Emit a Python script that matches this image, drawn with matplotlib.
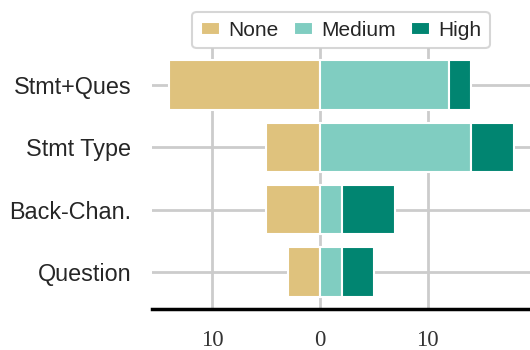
import matplotlib
matplotlib.use("Agg")
import matplotlib.pyplot as plt
import numpy as np

categories = ["Stmt+Ques", "Stmt Type", "Back-Chan.", "Question"]
none_vals = [14, 5, 5, 3]
medium_vals = [12, 14, 2, 2]
high_vals = [2, 4, 5, 3]
x_ticks = [-10, 0, 10]
x_tick_labels = ["10", "0", "10"]

colors = {"None": "#dfc27d", "Medium": "#80cdc1", "High": "#018571"}

fig = plt.figure(figsize=(5.3, 3.5), dpi=100)
ax = fig.add_axes([0.287, 0.117, 0.713, 0.746])

y = np.arange(len(categories))
none_arr = np.array(none_vals)
med_arr = np.array(medium_vals)
high_arr = np.array(high_vals)

bar_kw = dict(height=0.8, edgecolor="white", linewidth=1.5, zorder=3)
ax.barh(y, -none_arr, left=0, color=colors["None"], label="None", **bar_kw)
ax.barh(y, med_arr, left=0, color=colors["Medium"], label="Medium", **bar_kw)
ax.barh(y, high_arr, left=med_arr, color=colors["High"], label="High", **bar_kw)

ax.set_xlim(-15.6, 19.5)
ax.set_ylim(3.6, -0.6)

ax.set_yticks(y)
ax.set_yticklabels(categories, fontfamily="Liberation Sans", fontsize=16.8,
                   color="#262626")
ax.set_xticks(x_ticks)
ax.set_xticklabels(x_tick_labels, fontfamily="Liberation Serif", fontsize=16.5,
                   color="#333333")
ax.tick_params(axis="both", length=0)
ax.tick_params(axis="y", pad=15)
ax.tick_params(axis="x", pad=15)

ax.grid(True, color="#cccccc", linewidth=2, zorder=0)
ax.set_axisbelow(True)

for side in ["left", "top", "right"]:
    ax.spines[side].set_visible(False)
ax.spines["bottom"].set_color("black")
ax.spines["bottom"].set_linewidth(2.5)

leg = ax.legend(loc="lower center", bbox_to_anchor=(0.5, 1.0), ncol=3,
                frameon=True, borderaxespad=0.0, handlelength=0.9,
                handleheight=0.6, handletextpad=0.4, columnspacing=0.75,
                prop={"family": "Liberation Sans", "size": 15})
leg.get_frame().set_edgecolor("#cccccc")
leg.get_frame().set_linewidth(1.5)
for t in leg.get_texts():
    t.set_color("#262626")

fig.savefig("out.png", dpi=100)
